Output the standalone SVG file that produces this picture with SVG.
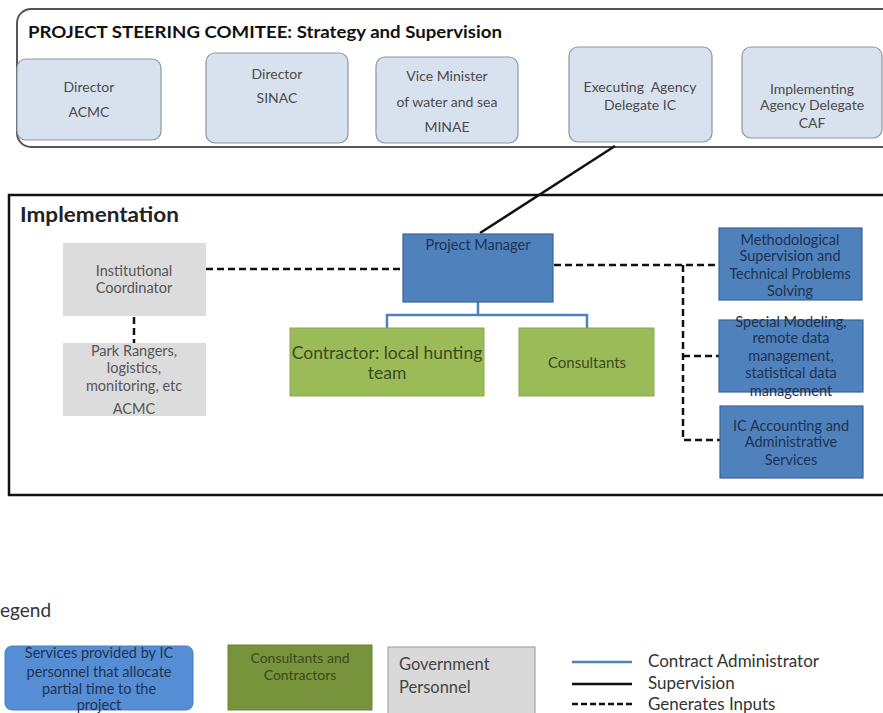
<svg xmlns="http://www.w3.org/2000/svg" width="883" height="713" viewBox="0 0 883 713">
<style>
text{font-family:Lato,"Open Sans","Liberation Sans",sans-serif;}
.sn{fill:#d8e2ef;stroke:#8c96a4;stroke-width:1.2;}
.st{font-size:14px;fill:#4a4a4a;text-anchor:middle;}
.gov{fill:#dcdcdc;}
.gt{font-size:14.5px;fill:#555;text-anchor:middle;}
.bl{fill:#4f81bd;stroke:#3a649a;stroke-width:1.2;}
.bt{font-size:14.5px;fill:#1e3350;text-anchor:middle;}
.gr{fill:#9bbb59;stroke:#8aa84c;stroke-width:1;}
.grt{fill:#3b4a1c;text-anchor:middle;}
.dash{fill:none;stroke:#111;stroke-width:2.5;stroke-dasharray:7,4;}
.sup{fill:none;stroke:#111;stroke-width:2.5;}
.ca{fill:none;stroke:#4f81bd;stroke-width:2.5;}
.lt{font-size:17px;fill:#333;}
</style>
<rect width="883" height="713" fill="#fff"/>

<g id="steering">
<rect x="17" y="9" width="890" height="138" rx="14" fill="#fff" stroke="#555" stroke-width="2"/>
<text x="28" y="38" font-size="17" font-weight="bold" fill="#111" textLength="474" lengthAdjust="spacingAndGlyphs">PROJECT STEERING COMITEE: Strategy and Supervision</text>
</g>
<g id="n-director-acmc">
<rect class="sn" x="17" y="59" width="144" height="81" rx="9"/>
<text class="st" x="89" y="92">Director</text>
<text class="st" x="89" y="117">ACMC</text>
</g>
<g id="n-director-sinac">
<rect class="sn" x="206" y="53" width="142" height="90" rx="9"/>
<text class="st" x="277" y="79">Director</text>
<text class="st" x="277" y="103">SINAC</text>
</g>
<g id="n-vice-minister">
<rect class="sn" x="376" y="57" width="142" height="86" rx="9"/>
<text class="st" x="447" y="81">Vice Minister</text>
<text class="st" x="447" y="107">of water and sea</text>
<text class="st" x="447" y="132">MINAE</text>
</g>
<g id="n-executing">
<rect class="sn" x="569" y="47" width="143" height="95" rx="9"/>
<text class="st" x="640" y="92" xml:space="preserve">Executing  Agency</text>
<text class="st" x="640" y="110">Delegate IC</text>
</g>
<g id="n-implementing">
<rect class="sn" x="742" y="47" width="140" height="91" rx="9"/>
<text class="st" x="812" y="94">Implementing</text>
<text class="st" x="812" y="110">Agency Delegate</text>
<text class="st" x="812" y="128">CAF</text>
</g>

<g id="implementation">
<rect x="9" y="195" width="890" height="300" fill="none" stroke="#111" stroke-width="2.5"/>
<text x="20" y="222" font-size="20" font-weight="bold" fill="#222" textLength="159" lengthAdjust="spacingAndGlyphs">Implementation</text>
</g>

<g id="connectors">
<line class="sup" x1="615" y1="146" x2="480" y2="233"/>
<line class="dash" x1="206" y1="269" x2="403" y2="269"/>
<line class="dash" x1="134" y1="317" x2="134" y2="343"/>
<polyline class="ca" points="478,302 478,315"/>
<polyline class="ca" points="387,329 387,315 587,315 587,329"/>
<line class="dash" x1="554" y1="265" x2="719" y2="265"/>
<polyline class="dash" points="683,265 683,440 720,440"/>
<line class="dash" x1="683" y1="356" x2="719" y2="356"/>
</g>

<g id="n-institutional">
<rect class="gov" x="63" y="243" width="143" height="73"/>
<text class="gt" x="134" y="276">Institutional</text>
<text class="gt" x="134" y="293">Coordinator</text>
</g>
<g id="n-park-rangers">
<rect class="gov" x="63" y="343" width="143" height="73"/>
<text class="gt" x="134" y="356">Park Rangers,</text>
<text class="gt" x="134" y="373">logistics,</text>
<text class="gt" x="134" y="391">monitoring, etc</text>
<text class="gt" x="134" y="414">ACMC</text>
</g>
<g id="n-project-manager">
<rect class="bl" x="403" y="234" width="150" height="68"/>
<text class="bt" x="478" y="250">Project Manager</text>
</g>
<g id="n-contractor">
<rect class="gr" x="290" y="328" width="194" height="68"/>
<text class="grt" x="387" y="359" font-size="17.5">Contractor: local hunting</text>
<text class="grt" x="387" y="379" font-size="17.5">team</text>
</g>
<g id="n-consultants">
<rect class="gr" x="519" y="328" width="135" height="68"/>
<text class="grt" x="587" y="368" font-size="15">Consultants</text>
</g>
<g id="n-methodological">
<rect class="bl" x="719" y="228" width="143" height="72"/>
<text class="bt" x="790" y="245">Methodological</text>
<text class="bt" x="790" y="261">Supervision and</text>
<text class="bt" x="790" y="279">Technical Problems</text>
<text class="bt" x="790" y="296">Solving</text>
</g>
<g id="n-special-modeling">
<rect class="bl" x="719" y="320" width="144" height="72"/>
<text class="bt" x="791" y="327">Special Modeling,</text>
<text class="bt" x="791" y="343">remote data</text>
<text class="bt" x="791" y="361">management,</text>
<text class="bt" x="791" y="378">statistical data</text>
<text class="bt" x="791" y="396">management</text>
</g>
<g id="n-ic-accounting">
<rect class="bl" x="720" y="406" width="143" height="72"/>
<text class="bt" x="791" y="431">IC Accounting and</text>
<text class="bt" x="791" y="447">Administrative</text>
<text class="bt" x="791" y="465">Services</text>
</g>

<g id="legend">
<text x="0" y="617" font-size="19" fill="#333">egend</text>
<rect x="5" y="646" width="188" height="64" rx="7" fill="#558ed5" stroke="#4a7cc0"/>
<text class="bt" x="99" y="658">Services provided by IC</text>
<text class="bt" x="99" y="677">personnel that allocate</text>
<text class="bt" x="99" y="694">partial time to the</text>
<text class="bt" x="99" y="710">project</text>
<rect x="228" y="645" width="144" height="65" fill="#77933c" stroke="#6a8535"/>
<text class="grt" x="300" y="663" font-size="14" fill="#2b3512">Consultants and</text>
<text class="grt" x="300" y="680" font-size="14">Contractors</text>
<rect x="388" y="647" width="147" height="70" fill="#d9d9d9" stroke="#999"/>
<text x="399" y="670" font-size="16.5" fill="#444">Government</text>
<text x="399" y="693" font-size="16.5" fill="#444">Personnel</text>
<line x1="572" y1="662" x2="632" y2="662" stroke="#4f81bd" stroke-width="2.5"/>
<line x1="572" y1="684" x2="632" y2="684" stroke="#111" stroke-width="2.5"/>
<line x1="572" y1="704" x2="632" y2="704" stroke="#111" stroke-width="2.5" stroke-dasharray="6,3"/>
<text class="lt" x="648" y="667">Contract Administrator</text>
<text class="lt" x="648" y="689">Supervision</text>
<text class="lt" x="648" y="710">Generates Inputs</text>
</g>
</svg>
